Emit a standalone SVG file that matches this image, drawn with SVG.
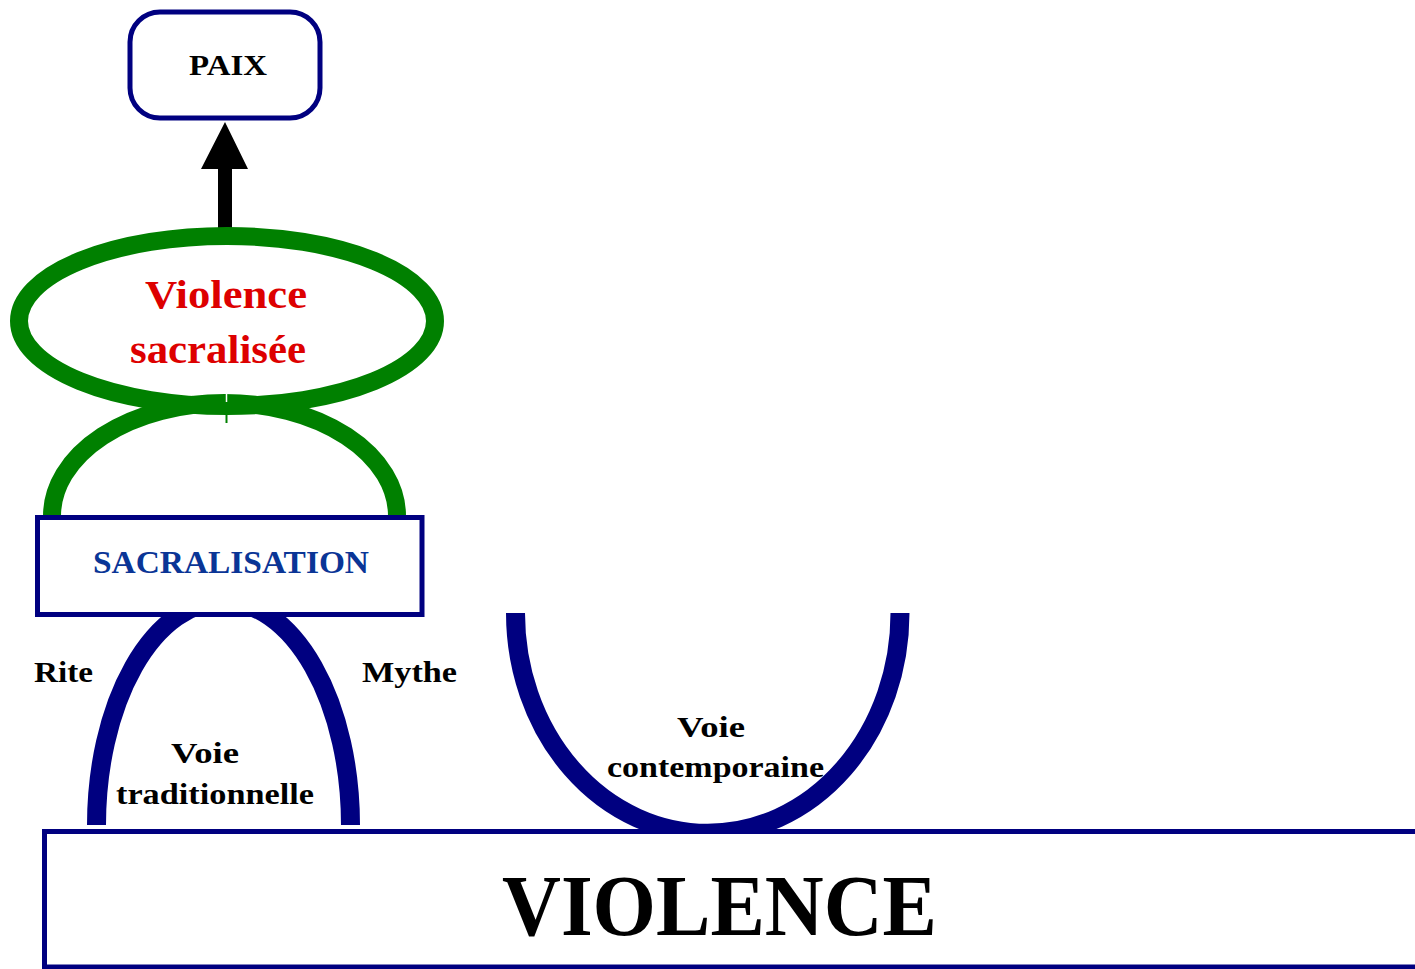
<svg xmlns="http://www.w3.org/2000/svg" width="1415" height="969" viewBox="0 0 1415 969">
<style>
text{font-family:"Liberation Serif","Palatino Linotype","Book Antiqua",serif;font-weight:bold;}
.lbl{font-size:30px;fill:#000;}
.navy{fill:none;stroke:#000080;stroke-width:19;}
.green{fill:none;stroke:#008000;stroke-width:18;}
.box{fill:#fff;stroke:#000080;stroke-width:5;}
</style>
<rect width="1415" height="969" fill="#fff"/>
<g id="connectors">
  <path class="green" d="M52,516 A172.5,113 0 0 1 397,516"/>
  <path class="navy" d="M96.5,825 A127,224 0 0 1 350.5,825"/>
  <path class="navy" d="M515.5,613 A192,220 0 0 0 900,613"/>
  <path id="arrow" d="M218,230 L218,169 L201,169 L225,122 L248,169 L232,169 L232,230 Z" fill="#000"/>
</g>
<g id="violence-sacralisee">
  <ellipse class="green" cx="227" cy="321" rx="208" ry="85"/>
  <line x1="226.5" y1="393" x2="226.5" y2="402" stroke="#fff" stroke-width="1.5"/>
  <line x1="226.5" y1="402" x2="226.5" y2="423" stroke="#008000" stroke-width="2"/>
  <text x="226" y="308" text-anchor="middle" font-size="40" fill="#dd0000" textLength="162" lengthAdjust="spacingAndGlyphs">Violence</text>
  <text x="218" y="363" text-anchor="middle" font-size="40" fill="#dd0000" textLength="176" lengthAdjust="spacingAndGlyphs">sacralisée</text>
</g>
<g id="paix">
  <rect class="box" x="130" y="12" width="190" height="106" rx="30" ry="30"/>
  <text x="228" y="75" text-anchor="middle" font-size="30" fill="#000" textLength="78" lengthAdjust="spacingAndGlyphs">PAIX</text>
</g>
<g id="sacralisation">
  <rect class="box" x="37.5" y="517.5" width="384.5" height="97"/>
  <text x="231" y="573" text-anchor="middle" font-size="31" fill="#0a3596" textLength="276" lengthAdjust="spacingAndGlyphs">SACRALISATION</text>
</g>
<g id="violence">
  <rect class="box" x="44.5" y="831.5" width="1400" height="135.5"/>
  <text x="719.5" y="935" text-anchor="middle" font-size="86" fill="#000" textLength="435" lengthAdjust="spacingAndGlyphs">VIOLENCE</text>
</g>
<g id="labels">
  <text class="lbl" x="34" y="682" textLength="59" lengthAdjust="spacingAndGlyphs">Rite</text>
  <text class="lbl" x="362" y="682" textLength="95" lengthAdjust="spacingAndGlyphs">Mythe</text>
  <text class="lbl" x="205" y="763" text-anchor="middle" textLength="68" lengthAdjust="spacingAndGlyphs">Voie</text>
  <text class="lbl" x="215" y="804" text-anchor="middle" textLength="198" lengthAdjust="spacingAndGlyphs">traditionnelle</text>
  <text class="lbl" x="711" y="737" text-anchor="middle" textLength="68" lengthAdjust="spacingAndGlyphs">Voie</text>
  <text class="lbl" x="715.5" y="777" text-anchor="middle" textLength="217" lengthAdjust="spacingAndGlyphs">contemporaine</text>
</g>
</svg>
